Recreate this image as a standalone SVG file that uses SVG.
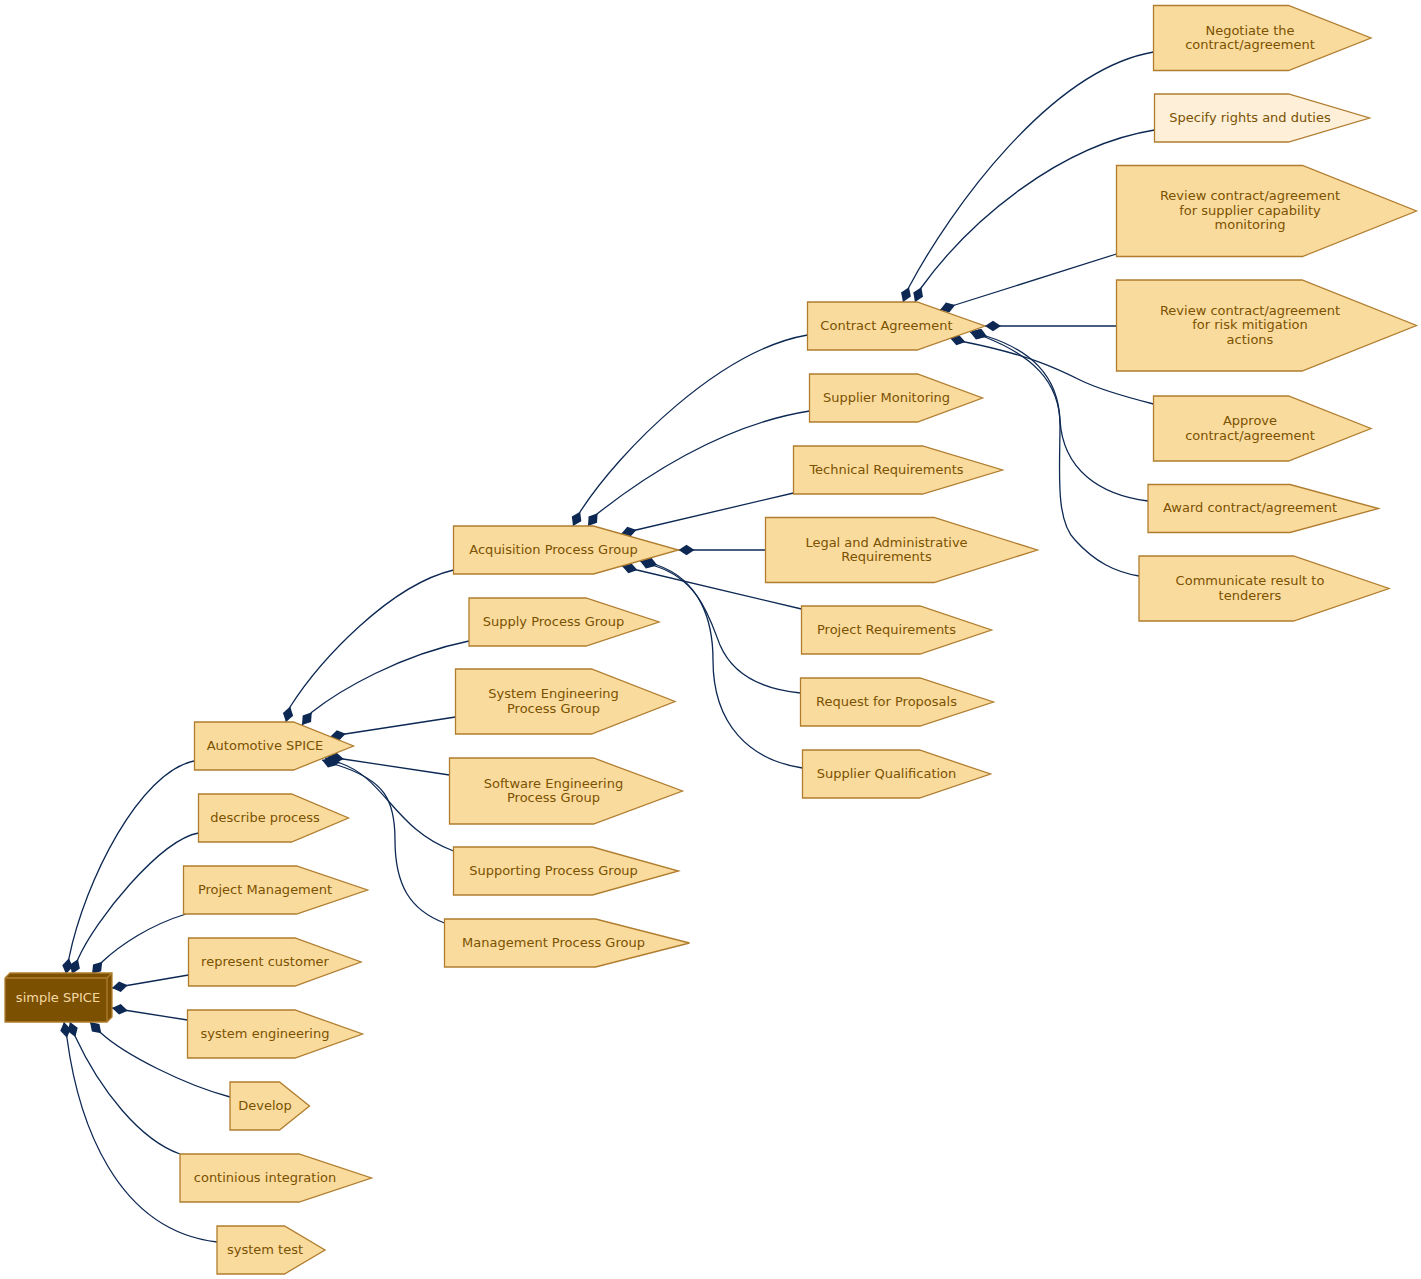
<svg xmlns="http://www.w3.org/2000/svg" width="1421" height="1279" viewBox="0 0 1421 1279">
<defs>
<marker id="dia" markerUnits="userSpaceOnUse" viewBox="0 0 17 12" markerWidth="17" markerHeight="12" refX="0" refY="6" orient="auto">
<path d="M0,6 L8,0.7 L16,6 L8,11.3 Z" fill="#0c2853"/>
</marker>
</defs>
<style>
.e{fill:none;stroke:#0c2853;stroke-width:1.3;marker-start:url(#dia)}
.n polygon{fill:#fadb9e;stroke:#b07d2e;stroke-width:1.3}
.n text{font-family:"DejaVu Sans","Liberation Sans",sans-serif;font-size:13px;fill:#7b5200;text-anchor:middle}
#n_spec polygon{fill:#fdefd8}
</style>
<rect width="1421" height="1279" fill="#ffffff"/>
<g id="edges">
<path class="e" d="M66,974 L69,958 C85,880 140,772 194,761"/>
<path class="e" d="M72,974 L78,959 C95,920 160,840 198.5,833"/>
<path class="e" d="M92,974 L102,962 C120,945 150,925 186,914"/>
<path class="e" d="M112,988 L127,985.5 L188.5,975"/>
<path class="e" d="M112,1008 L127,1010.5 L187.5,1020"/>
<path class="e" d="M90,1022 L101,1033 C125,1055 185,1085 230,1097"/>
<path class="e" d="M70,1022 L75,1036 C100,1090 140,1140 180,1154"/>
<path class="e" d="M64,1022 L67,1038 C78,1120 115,1230 217,1242"/>
<path class="e" d="M286,722 L290,707 C320,660 390,585 453.5,570"/>
<path class="e" d="M302,725 L312,712 C340,690 400,655 469,641"/>
<path class="e" d="M330,737 L345,734 L455.5,717"/>
<path class="e" d="M328,757 L343,759 L449.5,775"/>
<path class="e" d="M325,758 L340,763 C385,778 395,830 453.5,851"/>
<path class="e" d="M322,760 L337,765 C385,780 395,800 395,840 C395,885 410,910 444.5,923"/>
<path class="e" d="M573,526 L580,512 C620,450 720,350 807.5,335"/>
<path class="e" d="M588,526 L597,514 C640,480 720,425 809.5,411"/>
<path class="e" d="M621,534 L636,530 L793.5,493"/>
<path class="e" d="M678.5,550 L694,550 L765.5,550"/>
<path class="e" d="M622,566 L637,570 L801.5,609"/>
<path class="e" d="M640,561 L655,566 C700,580 710,620 720,645 C735,680 770,690 800.5,693"/>
<path class="e" d="M642,560 L657,565 C700,580 713,620 713,660 C713,725 750,760 802.5,768"/>
<path class="e" d="M903,302 L909,287 C950,210 1050,70 1153.5,52"/>
<path class="e" d="M915,302 L921,288 C970,220 1060,145 1154.5,130"/>
<path class="e" d="M940,310 L955,305 L1116.5,254"/>
<path class="e" d="M985,326 L1001,326 L1116.5,326"/>
<path class="e" d="M950,338 L965,342 C1030,355 1060,370 1080,380 C1100,390 1130,398 1153.5,404"/>
<path class="e" d="M972,331 L986,336 C1030,350 1058,375 1060,420 C1063,470 1100,495 1148,501"/>
<path class="e" d="M970,332 L985,337 C1030,355 1060,380 1060,425 C1060,470 1055,520 1075,540 C1095,562 1115,572 1139,576"/>
</g>
<g id="n_simple">
<polygon points="112,973 10,973 5,978 5,1022 107,1022 112,1017" fill="#7b5000" stroke="#b07d2e" stroke-width="1.3"/>
<path d="M107,978 L5,978 M107,978 L107,1022 M107,978 L112,973" fill="none" stroke="#b07d2e" stroke-width="1.3"/>
<text x="58" y="1001.5" font-family="DejaVu Sans, Liberation Sans, sans-serif" font-size="13" fill="#f5d9a6" text-anchor="middle">simple SPICE</text>
</g>
<g id="n_auto" class="n"><polygon points="194.5,722 293.5,722 353.5,746 293.5,770 194.5,770"/><text x="265" y="749.5">Automotive SPICE</text></g>
<g id="n_describe" class="n"><polygon points="198.5,794 291.5,794 348.5,818 291.5,842 198.5,842"/><text x="265" y="821.5">describe process</text></g>
<g id="n_pm" class="n"><polygon points="183.5,866 296.5,866 367.5,890 296.5,914 183.5,914"/><text x="265" y="893.5">Project Management</text></g>
<g id="n_rc" class="n"><polygon points="188.5,938 295,938 361,962 295,986 188.5,986"/><text x="265" y="965.5">represent customer</text></g>
<g id="n_se" class="n"><polygon points="187.5,1010 295,1010 362.5,1034 295,1058 187.5,1058"/><text x="265" y="1037.5">system engineering</text></g>
<g id="n_dev" class="n"><polygon points="230,1082 279.5,1082 309.5,1106 279.5,1130 230,1130"/><text x="265" y="1109.5">Develop</text></g>
<g id="n_ci" class="n"><polygon points="180,1154 299,1154 371.5,1178 299,1202 180,1202"/><text x="265" y="1181.5">continious integration</text></g>
<g id="n_st" class="n"><polygon points="217,1226 284.5,1226 325,1250 284.5,1274 217,1274"/><text x="265" y="1253.5">system test</text></g>
<g id="n_acq" class="n"><polygon points="453.5,526 593.5,526 678.5,550 593.5,574 453.5,574"/><text x="553.5" y="553.5">Acquisition Process Group</text></g>
<g id="n_sup" class="n"><polygon points="469,598 586,598 659,622 586,646 469,646"/><text x="553.5" y="625.5">Supply Process Group</text></g>
<g id="n_syseng" class="n"><polygon points="455.5,669 591.5,669 675,701.5 591.5,734 455.5,734"/><text x="553.5" y="698">System Engineering</text><text x="553.5" y="712.5">Process Group</text></g>
<g id="n_sweng" class="n"><polygon points="449.5,758 593.5,758 682.5,791 593.5,824 449.5,824"/><text x="553.5" y="787.5">Software Engineering</text><text x="553.5" y="802">Process Group</text></g>
<g id="n_supp" class="n"><polygon points="453.5,847 592.5,847 678.5,871 592.5,895 453.5,895"/><text x="553.5" y="874.5">Supporting Process Group</text></g>
<g id="n_mgmt" class="n"><polygon points="444.5,919 595.5,919 689.5,943 595.5,967 444.5,967"/><text x="553.5" y="946.5">Management Process Group</text></g>
<g id="n_ca" class="n"><polygon points="807.5,302 917,302 985,326 917,350 807.5,350"/><text x="886.5" y="329.5">Contract Agreement</text></g>
<g id="n_sm" class="n"><polygon points="809.5,374 917.5,374 982.5,398 917.5,422 809.5,422"/><text x="886.5" y="401.5">Supplier Monitoring</text></g>
<g id="n_tr" class="n"><polygon points="793.5,446 922.5,446 1002.5,470 922.5,494 793.5,494"/><text x="886.5" y="473.5">Technical Requirements</text></g>
<g id="n_legal" class="n"><polygon points="765.5,517.5 934,517.5 1037.5,550 934,582.5 765.5,582.5"/><text x="886.5" y="546.5">Legal and Administrative</text><text x="886.5" y="561">Requirements</text></g>
<g id="n_pr" class="n"><polygon points="801.5,606 920,606 991.5,630 920,654 801.5,654"/><text x="886.5" y="633.5">Project Requirements</text></g>
<g id="n_rfp" class="n"><polygon points="800.5,678 920,678 993.5,702 920,726 800.5,726"/><text x="886.5" y="705.5">Request for Proposals</text></g>
<g id="n_sq" class="n"><polygon points="802.5,750 919.5,750 990.5,774 919.5,798 802.5,798"/><text x="886.5" y="777.5">Supplier Qualification</text></g>
<g id="n_neg" class="n"><polygon points="1153.5,5.5 1288.5,5.5 1371,38 1288.5,70.5 1153.5,70.5"/><text x="1250" y="34.5">Negotiate the</text><text x="1250" y="49">contract/agreement</text></g>
<g id="n_spec" class="n"><polygon points="1154.5,94 1288.5,94 1369.5,118 1288.5,142 1154.5,142"/><text x="1250" y="121.5">Specify rights and duties</text></g>
<g id="n_rsc" class="n"><polygon points="1116.5,165.5 1302.5,165.5 1416.5,211 1302.5,256.5 1116.5,256.5"/><text x="1250" y="200">Review contract/agreement</text><text x="1250" y="214.5">for supplier capability</text><text x="1250" y="229">monitoring</text></g>
<g id="n_rrisk" class="n"><polygon points="1116.5,280 1302,280 1416.5,325.5 1302,371 1116.5,371"/><text x="1250" y="314.5">Review contract/agreement</text><text x="1250" y="329">for risk mitigation</text><text x="1250" y="343.5">actions</text></g>
<g id="n_appr" class="n"><polygon points="1153.5,396 1288.5,396 1371,428.5 1288.5,461 1153.5,461"/><text x="1250" y="425">Approve</text><text x="1250" y="439.5">contract/agreement</text></g>
<g id="n_award" class="n"><polygon points="1148,484.5 1290,484.5 1378.5,508.5 1290,532.5 1148,532.5"/><text x="1250" y="512">Award contract/agreement</text></g>
<g id="n_comm" class="n"><polygon points="1139,556 1293.5,556 1389,588.5 1293.5,621 1139,621"/><text x="1250" y="585">Communicate result to</text><text x="1250" y="599.5">tenderers</text></g>
</svg>
